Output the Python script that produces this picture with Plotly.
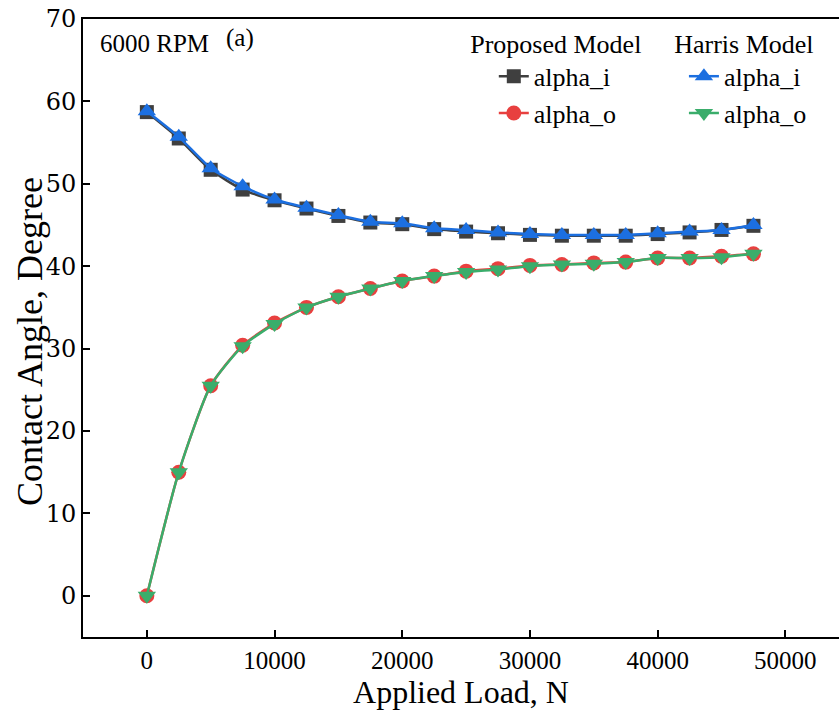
import plotly.graph_objects as go

load = [0, 2500, 5000, 7500, 10000, 12500, 15000, 17500, 20000, 22500,
        25000, 27500, 30000, 32500, 35000, 37500, 40000, 42500, 45000, 47500]

prop_alpha_i = [58.7, 55.5, 51.7, 49.3, 48.0, 47.0, 46.1, 45.3, 45.1, 44.5,
                44.2, 44.0, 43.8, 43.7, 43.7, 43.7, 43.9, 44.1, 44.4, 44.9]
prop_alpha_o = [0.0, 15.0, 25.5, 30.4, 33.1, 35.0, 36.3, 37.3, 38.2, 38.8,
                39.4, 39.7, 40.1, 40.2, 40.4, 40.5, 41.0, 41.0, 41.2, 41.5]
harris_alpha_i = [58.8, 55.7, 51.9, 49.7, 48.1, 47.1, 46.2, 45.4, 45.2, 44.6,
                  44.4, 44.1, 43.9, 43.8, 43.8, 43.8, 44.0, 44.2, 44.4, 45.0]
harris_alpha_o = [0.0, 15.0, 25.5, 30.3, 33.0, 35.0, 36.3, 37.3, 38.2, 38.8,
                  39.3, 39.6, 40.0, 40.2, 40.3, 40.5, 41.0, 41.0, 41.1, 41.5]

x_ticks = [0, 10000, 20000, 30000, 40000, 50000]
y_ticks = [0, 10, 20, 30, 40, 50, 60, 70]

FONT = "'Liberation Serif', 'Times New Roman', Times, serif"
YFONT = "'DejaVu Serif', serif"
BLACK = "#3f3f3f"
RED = "#e8403f"
BLUE = "#1c6fe0"
GREEN = "#3aad6b"

fig = go.Figure()

def add(y, name, color, symbol, size, legend):
    fig.add_trace(go.Scatter(
        x=load, y=y, name=name, mode="lines+markers",
        line=dict(color=color, width=2.5, shape="spline", smoothing=0.6),
        marker=dict(color=color, symbol=symbol, size=size, line=dict(width=0)),
        legend=legend,
    ))

add(prop_alpha_i, "alpha_i", BLACK, "square", 14, "legend")
add(prop_alpha_o, "alpha_o", RED, "circle", 15, "legend")
add(harris_alpha_i, "alpha_i", BLUE, "triangle-up", 16, "legend2")
add(harris_alpha_o, "alpha_o", GREEN, "triangle-down", 16, "legend2")

legend_common = dict(
    font=dict(family=FONT, size=26, color="black"),
    bgcolor="rgba(0,0,0,0)",
    yanchor="top",
    xanchor="left",
    tracegroupgap=0,
    itemsizing="trace",
)

fig.update_layout(
    width=839, height=720,
    margin=dict(l=83, r=0, t=19, b=83),
    paper_bgcolor="white", plot_bgcolor="white",
    font=dict(family=FONT, color="black"),
    legend=dict(**legend_common, x=0.509, y=1.0, indentation=26,
                title=dict(text="Proposed Model", side="top center",
                           font=dict(family=FONT, size=26, color="black"))),
    legend2=dict(**legend_common, x=0.779, y=1.0, indentation=12,
                 title=dict(text="Harris Model", side="top center",
                            font=dict(family=FONT, size=26, color="black"))),
    xaxis=dict(
        range=[-5000, 54200], tickvals=x_ticks,
        ticktext=[str(v) for v in x_ticks],
        showgrid=False, zeroline=False,
        showline=True, linecolor="black", linewidth=2, mirror=True,
        ticks="inside", ticklen=7, tickwidth=2, tickcolor="black",
        tickfont=dict(family=FONT, size=25, color="black"),
        title=dict(text="Applied Load, N", font=dict(family=FONT, size=32, color="black"),
                   standoff=8),
    ),
    yaxis=dict(
        range=[-5, 70], tickvals=y_ticks,
        ticktext=[str(v) for v in y_ticks],
        showgrid=False, zeroline=False,
        showline=True, linecolor="black", linewidth=2, mirror=False,
        ticks="inside", ticklen=7, tickwidth=2, tickcolor="black",
        tickfont=dict(family=YFONT, size=24, color="black"),
    ),
    annotations=[
        dict(text="Contact Angle, Degree", xref="paper", yref="paper",
             x=-0.071, y=0.478, xanchor="center", yanchor="middle",
             textangle=-90, showarrow=False,
             font=dict(family=FONT, size=36, color="black")),
        dict(text="6000 RPM", xref="paper", yref="paper", x=0.02, y=0.96,
             xanchor="left", yanchor="middle", showarrow=False,
             font=dict(family=FONT, size=25, color="black")),
        dict(text="(a)", xref="paper", yref="paper", x=0.186, y=0.97,
             xanchor="left", yanchor="middle", showarrow=False,
             font=dict(family=FONT, size=25, color="black")),
    ],
)

fig.write_html("out.html")
